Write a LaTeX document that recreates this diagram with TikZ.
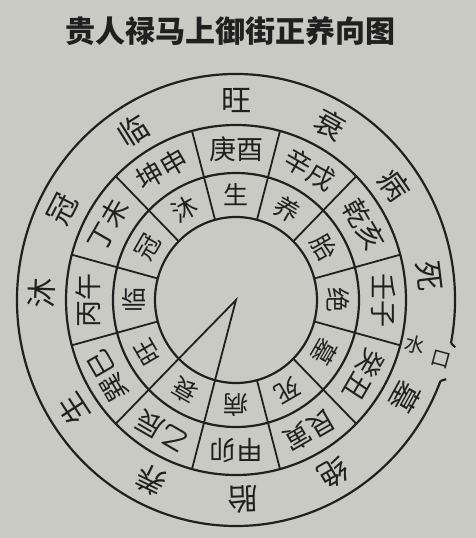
\documentclass[tikz,border=0pt]{standalone}
\usepackage{fontspec}
\newfontfamily\cjk{Noto Sans CJK SC}
\definecolor{paper}{RGB}{202,202,196}
\definecolor{ink}{RGB}{32,32,32}
\tikzset{
  ringline/.style={draw=ink, line width=2.2pt},
  divline/.style={draw=ink, line width=1.8pt, line join=miter},
  titletxt/.style={font=\cjk\bfseries\fontsize{30}{30}\selectfont, text=ink, inner sep=0pt},
  branchtxt/.style={font=\cjk\fontsize{27}{27}\selectfont, text=ink, inner sep=0pt},
  stagetxt/.style={font=\cjk\fontsize{25}{25}\selectfont, text=ink, inner sep=0pt},
  outertxt/.style={font=\cjk\fontsize{30}{30}\selectfont, text=ink, inner sep=0pt},
  mouthtxt/.style={font=\cjk\fontsize{20}{20}\selectfont, text=ink, inner sep=0pt}
}
\begin{document}
\begin{tikzpicture}[x=1pt,y=1pt]
\fill[paper] (0,0) rectangle (476,-538);
\useasboundingbox (0,0) rectangle (476,-538);
\node[titletxt] (title) at (230,-31) {贵人禄马上御街正养向图};
\begin{scope}[shift={(236,-300)}]
\coordinate (c) at (0,0);
% rings
\draw[ringline] (c) ellipse [x radius=81, y radius=83];
\draw[ringline] (c) ellipse [x radius=123, y radius=127];
\draw[ringline] (c) ellipse [x radius=170, y radius=175];
% outer ring with a gap for the water mouth
\draw[ringline] ({219*cos(-11)},{226*sin(-11)}) coordinate (gA)
  arc[start angle=-11, end angle=339, x radius=219, y radius=226] coordinate (gB);
\draw[ringline] (gA) -- ++(-45:6);
\draw[ringline] (gB) -- ++(18:6);
% dividers
\foreach \a in {15,45,...,345}
  \draw[divline] ({81*cos(\a)},{83*sin(\a)}) -- ({170*cos(\a)},{175*sin(\a)});
% pointer wedge
\draw[divline] ({81*cos(225)},{83*sin(225)}) -- (c) -- ({81*cos(255)},{83*sin(255)});
% branch ring
\foreach \a/\t [count=\i] in {90/庚酉,60/辛戌,30/乾亥,0/壬子,-30/癸丑,-60/艮寅,-90/甲卯,-120/乙辰,-150/巽巳,180/丙午,150/丁未,120/坤申}
  \node[branchtxt, rotate=\a-90] (b\i) at ({148*cos(\a)},{151*sin(\a)}) {\t};
% stage ring
\foreach \a/\t [count=\i] in {90/生,60/养,30/胎,0/绝,-30/墓,-60/死,-90/病,-120/衰,-150/旺,180/临,150/冠,120/沐}
  \node[stagetxt, rotate=\a-90] (s\i) at ({102*cos(\a)},{105*sin(\a)}) {\t};
% outer ring
\foreach \a/\t [count=\i] in {90/旺,61/衰,35/病,7/死,-29/墓,-60/绝,-88/胎,-116/养,-147/生,178/沐,153/冠,122/临}
  \node[outertxt, rotate=\a-90] (o\i) at ({194*cos(\a)},{200*sin(\a)}) {\t};
\node[mouthtxt, rotate=-15] (m1) at ({184*cos(-13.7)},{190*sin(-13.7)}) {水};
\node[mouthtxt, rotate=-15] (m2) at ({213*cos(-15.6)},{220*sin(-15.6)}) {口};
\end{scope}
\end{tikzpicture}
\end{document}
